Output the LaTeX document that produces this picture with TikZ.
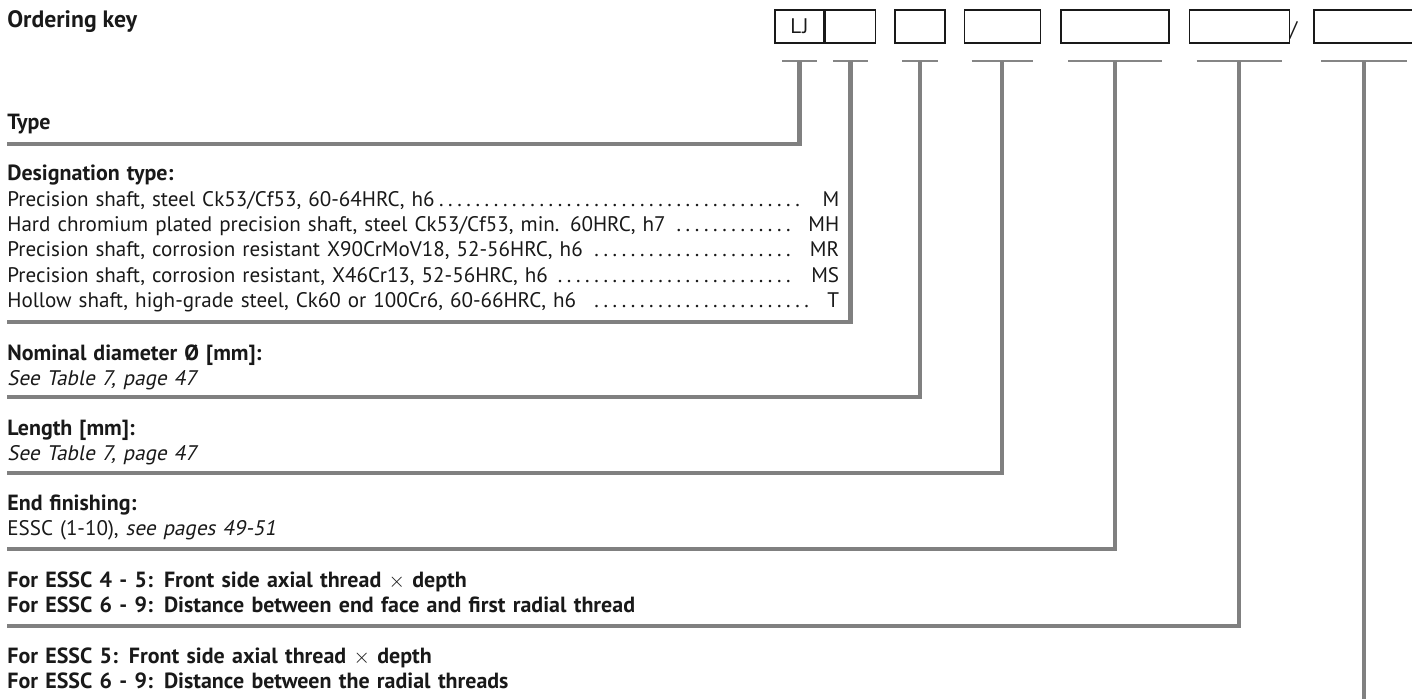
\documentclass[tikz,border=0pt]{standalone}
\usepackage{fontspec}
\setmainfont{PT Sans}[ItalicFont={PT Sans}, ItalicFeatures={FakeSlant=0.2}]
\usetikzlibrary{positioning}

% dotted leader up to the code letters at the right edge
\newcommand\leadto[1]{\leaders\hbox to 5.2pt{\hss.\hss}\hskip 0pt plus 1filll\hspace{7pt}#1}

\begin{document}
\begin{tikzpicture}[
  x=0.02cm, y=-0.02cm,
  font=\fontsize{12}{14.4}\selectfont, text=black!90,
  slot/.style={draw=black!90, line width=0.85pt, minimum height=6.6mm, minimum width=10mm, inner sep=0pt},
  tee/.style={draw=black!48, line width=1.4pt},
  conn/.style={draw=black!50, line width=2.3pt},
  head/.style={anchor=base west, inner sep=0pt, font=\fontsize{12.5}{14.4}\selectfont\bfseries},
  % text width makes the base anchor sit on the FIRST line
  txt/.style={anchor=base west, inner sep=0pt, align=left, text width=16.64cm},
  btxt/.style={txt, font=\fontsize{12.5}{14.4}\selectfont\bfseries}
]
\useasboundingbox (0,0) rectangle (1412,699);
\node[head, font=\fontsize{13.5}{16}\selectfont\bfseries] (key) at (7,28) {Ordering key};
% the key boxes, each one hung off the east edge of the one before
\node[slot, minimum width=9.8mm] (b1) at (799.5,26.5) {\addfontfeature{Kerning=Off}L\kern0.6pt J};
\node[slot, anchor=west] (b2) at (b1.east) {};
\node[slot, anchor=west] (b3) at ([xshift=3.6mm]b2.east) {};
\node[slot, anchor=west, minimum width=15.2mm] (b4) at ([xshift=3.6mm]b3.east) {};
\node[slot, anchor=west, minimum width=21.6mm] (b5) at ([xshift=3.8mm]b4.east) {};
\node[slot, anchor=west, minimum width=20mm] (b6) at ([xshift=3.8mm]b5.east) {};
\node[slot, anchor=west, minimum width=20mm] (b7) at ([xshift=4.6mm]b6.east) {};
\node (sep) at (1293.5,30) {/};

\node[head] (type) at (7,130) {Type};
\node[txt] (desig) at (7,181) {{\fontsize{12.5}{14.4}\selectfont\bfseries Designation type:}\\
  Precision shaft, steel Ck53/Cf53, 60-64HRC, h6\leadto{M}\\
  Hard chromium plated precision shaft, steel Ck53/Cf53, min. 60HRC, h7 \leadto{MH}\\
  Precision shaft, corrosion resistant X90CrMoV18, 52-56HRC, h6 \leadto{MR}\\
  Precision shaft, corrosion resistant, X46Cr13, 52-56HRC, h6 \leadto{MS}\\
  Hollow shaft, high-grade steel, Ck60 or 100Cr6, 60-66HRC, h6 \leadto{T}};
\node[txt] (nom) at (7,360) {{\fontsize{12.5}{14.4}\selectfont\bfseries Nominal diameter Ø [mm]:}\\\textit{See Table 7, page 47}};
\node[txt] (len) at (7,435) {{\fontsize{12.5}{14.4}\selectfont\bfseries Length [mm]:}\\\textit{See Table 7, page 47}};
\node[txt] (ends) at (7,510) {{\fontsize{12.5}{14.4}\selectfont\bfseries End finishing:}\\ESSC (1-10), \textit{see pages 49-51}};
\node[btxt] (axial) at (7,587)
  {For ESSC 4 - 5: Front side axial thread {\mdseries$\times$} depth\\
   For ESSC 6 - 9: Distance between end face and first radial thread};
\node[btxt] (radial) at (7,663)
  {For ESSC 5: Front side axial thread {\mdseries$\times$} depth\\
   For ESSC 6 - 9: Distance between the radial threads};

% T under every box, then down and back to the left margin below its text
% (the last one runs along the bottom edge, mostly cut off by the page)
\foreach \i/\y in {1/144, 2/322, 3/397, 4/473, 5/549, 6/626, 7/701} {
  \draw[tee] ([shift={(8,17)}]b\i.south west) -- ([shift={(-8,17)}]b\i.south east);
  \coordinate (e\i) at (7,\y);
  \draw[conn] ([shift={(0,17)}]b\i.south) |- (e\i);
}
\end{tikzpicture}
\end{document}
